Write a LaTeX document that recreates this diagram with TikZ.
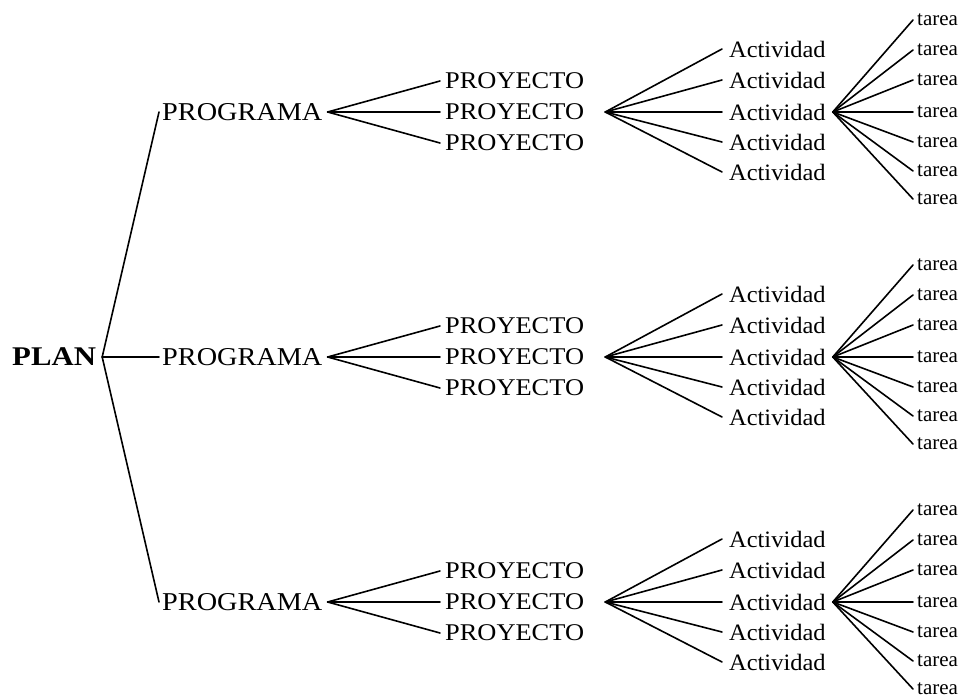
\documentclass[tikz,border=0pt]{standalone}
\usepackage{fontspec}
\setmainfont{Liberation Serif}
\newfontfamily\fplan[FakeStretch=1.14]{Liberation Serif}
\newfontfamily\fprog[FakeStretch=1.10]{Liberation Serif}
\newfontfamily\fproy[FakeStretch=1.10]{Liberation Serif}
\newfontfamily\fact[FakeStretch=1.04]{Liberation Serif}
\newfontfamily\ftar[FakeStretch=1.0]{Liberation Serif}
\tikzset{
  plantxt/.style={font=\fplan\fontsize{27}{27}\selectfont\bfseries},
  progtxt/.style={font=\fprog\fontsize{25.7}{26}\selectfont},
  proytxt/.style={font=\fproy\fontsize{24}{24}\selectfont},
  acttxt/.style={font=\fact\fontsize{23.5}{24}\selectfont},
  tartxt/.style={font=\ftar\fontsize{21}{22}\selectfont},
  branch/.style={line width=1.6pt, line cap=round}
}
\begin{document}
\begin{tikzpicture}[x=1pt,y=-1pt, every node/.style={inner sep=0pt, anchor=west}]
\useasboundingbox (0,0) rectangle (964,700);
\node[plantxt] (plan) at (12,357) {PLAN};
\coordinate (planhub) at ([xshift=6pt]plan.east);
\foreach \i/\gy in {1/112,2/357,3/602}{
  \node[progtxt] (prog\i) at (162,\gy) {PROGRAMA};
  \draw[branch] (planhub) -- ([xshift=-3pt]prog\i.west);
  \coordinate (proghub\i) at ([xshift=5pt]prog\i.east);
  \foreach \j/\d in {1/-31,2/0,3/31}{
    \node[proytxt] (proy\i\j) at (445,\gy+\d) {PROYECTO};
    \draw[branch] (proghub\i) -- ([xshift=-5pt]proy\i\j.west);
  }
  \coordinate (proyhub\i) at ([xshift=21pt]proy\i2.east);
  \foreach \j/\d in {1/-63,2/-32,3/0,4/30,5/60}{
    \node[acttxt] (act\i\j) at (729,\gy+\d) {Actividad};
    \draw[branch] (proyhub\i) -- ([xshift=-7pt]act\i\j.west);
  }
  \coordinate (acthub\i) at ([xshift=7pt]act\i3.east);
  \foreach \j/\d in {1/-92,2/-62,3/-32,4/0,5/30,6/59,7/87}{
    \node[tartxt] (tar\i\j) at (917,\gy+\d) {tarea};
    \draw[branch] (acthub\i) -- ([xshift=-4pt]tar\i\j.west);
  }
}
\end{tikzpicture}
\end{document}
